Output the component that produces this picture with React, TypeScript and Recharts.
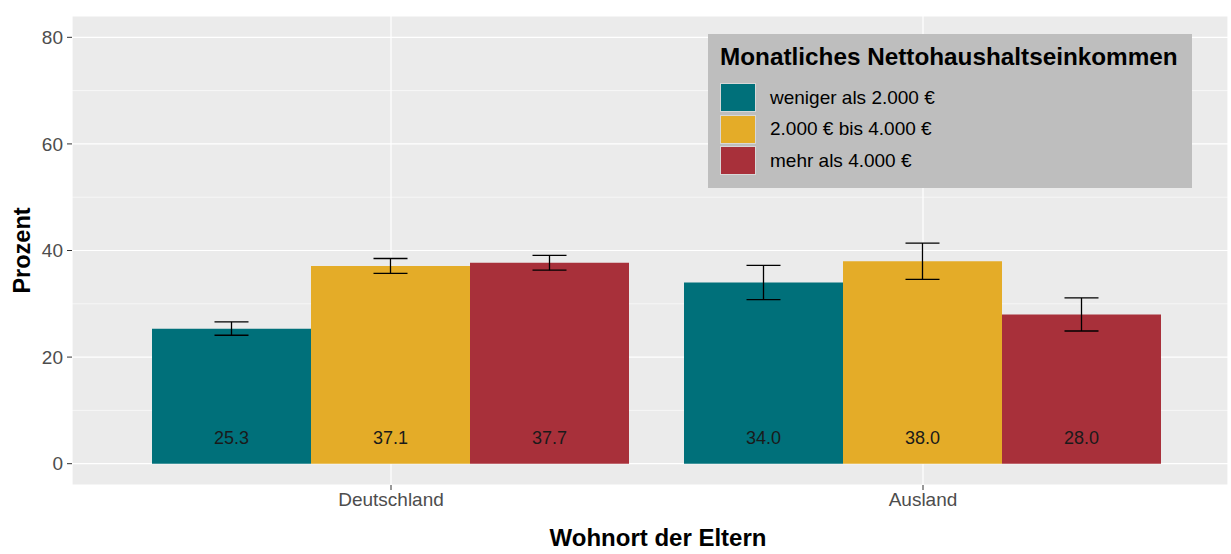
import { BarChart, Bar, XAxis, YAxis, CartesianGrid, ErrorBar, LabelList, Legend } from 'recharts';

const categories = ['Deutschland', 'Ausland'];
const incomeGroups = ['weniger als 2.000 €', '2.000 € bis 4.000 €', 'mehr als 4.000 €'];
const groupColors = ['#00707A', '#E4AC28', '#A8303A'];

// shares in percent, with lower / upper confidence limits
const lowIncome = [25.3, 34.0];
const lowIncomeCi = [[24.1, 26.6], [30.8, 37.2]];
const midIncome = [37.1, 38.0];
const midIncomeCi = [[35.7, 38.5], [34.6, 41.4]];
const highIncome = [37.7, 28.0];
const highIncomeCi = [[36.3, 39.1], [24.9, 31.1]];

const yTicks = [0, 20, 40, 60, 80];
const yMinorTicks = [10, 30, 50, 70];

const font = '"Liberation Sans", Arial, sans-serif';

const series = [
  { key: 'low', values: lowIncome, ci: lowIncomeCi },
  { key: 'mid', values: midIncome, ci: midIncomeCi },
  { key: 'high', values: highIncome, ci: highIncomeCi },
];

const data = categories.map((name, i) => {
  const row: Record<string, any> = { name };
  series.forEach((s) => {
    row[s.key] = s.values[i];
    row[s.key + 'Err'] = [s.values[i] - s.ci[i][0], s.ci[i][1] - s.values[i]];
  });
  return row;
});

const renderValue = (props: any) => {
  const { x, y, width, height, value } = props;
  return (
    <text
      x={Number(x) + Number(width) / 2}
      y={Number(y) + Number(height) - 26}
      textAnchor="middle"
      dominantBaseline="central"
      fontSize={18}
      fontFamily={font}
      fill="#1a1a1a"
    >
      {Number(value).toFixed(1)}
    </text>
  );
};

const IncomeLegend = () => (
  <div
    style={{
      background: '#BEBEBE',
      width: 484,
      height: 154,
      boxSizing: 'border-box',
      padding: '10px 12px 0 12px',
      fontFamily: font,
      color: '#000',
    }}
  >
    <div style={{ fontWeight: 'bold', fontSize: 24.3, lineHeight: '26px', marginBottom: 12, whiteSpace: 'nowrap' }}>
      Monatliches Nettohaushaltseinkommen
    </div>
    {incomeGroups.map((g, i) => (
      <div key={g} style={{ display: 'flex', alignItems: 'center', height: 31.5 }}>
        <span
          style={{
            width: 36,
            height: 29,
            boxSizing: 'border-box',
            background: groupColors[i],
            border: '1px solid #d8d8d8',
          }}
        />
        <span style={{ marginLeft: 14, fontSize: 19 }}>{g}</span>
      </div>
    ))}
  </div>
);

export default function App() {
  return (
    <div style={{ position: 'absolute', left: 0, top: 0, width: 1231, height: 554, overflow: 'hidden', background: '#fff' }}>
      <BarChart
        width={1231}
        height={554}
        data={data}
        margin={{ top: 16, right: 3, bottom: 29, left: 0 }}
        barCategoryGap={27}
        barGap={0}
      >
        <CartesianGrid fill="#EBEBEB" fillOpacity={1} vertical={false} horizontalValues={yMinorTicks} stroke="#fff" strokeWidth={0.6} />
        <CartesianGrid stroke="#fff" strokeWidth={1.2} />
        <XAxis
          dataKey="name"
          padding={{ left: 53, right: 39 }}
          height={40}
          axisLine={false}
          tickSize={5}
          tickMargin={3}
          tickLine={{ stroke: '#333' }}
          tick={{ fill: '#4D4D4D', fontSize: 19, fontFamily: font }}
          label={{
            content: (p: any) => (
              <text
                x={p.viewBox.x + p.viewBox.width / 2 + 8}
                y={546}
                textAnchor="middle"
                fontSize={24}
                fontWeight="bold"
                fontFamily={font}
                fill="#000"
              >
                Wohnort der Eltern
              </text>
            ),
          }}
        />
        <YAxis
          width={72}
          domain={[-4, 84]}
          ticks={yTicks}
          axisLine={false}
          tickSize={5}
          tickMargin={4}
          tickLine={{ stroke: '#333' }}
          tick={{ fill: '#4D4D4D', fontSize: 19, fontFamily: font }}
          label={{
            content: (p: any) => {
              const cy = p.viewBox.y + p.viewBox.height / 2;
              return (
                <text
                  x={22}
                  y={cy}
                  transform={`rotate(-90, 22, ${cy})`}
                  textAnchor="middle"
                  dominantBaseline="central"
                  fontSize={23.5}
                  fontWeight="bold"
                  fontFamily={font}
                  fill="#000"
                >
                  Prozent
                </text>
              );
            },
          }}
        />
        <Legend
          layout="vertical"
          align="center"
          verticalAlign="middle"
          content={() => <IncomeLegend />}
          wrapperStyle={{ position: 'absolute', left: 708, top: 34, width: 484, height: 154 }}
        />
        {series.map((s, i) => (
          <Bar key={s.key} dataKey={s.key} name={incomeGroups[i]} fill={groupColors[i]} isAnimationActive={false}>
            <ErrorBar dataKey={s.key + 'Err'} width={17} stroke="#000" strokeWidth={1.3} direction="y" />
            <LabelList dataKey={s.key} content={renderValue} />
          </Bar>
        ))}
      </BarChart>
    </div>
  );
}
